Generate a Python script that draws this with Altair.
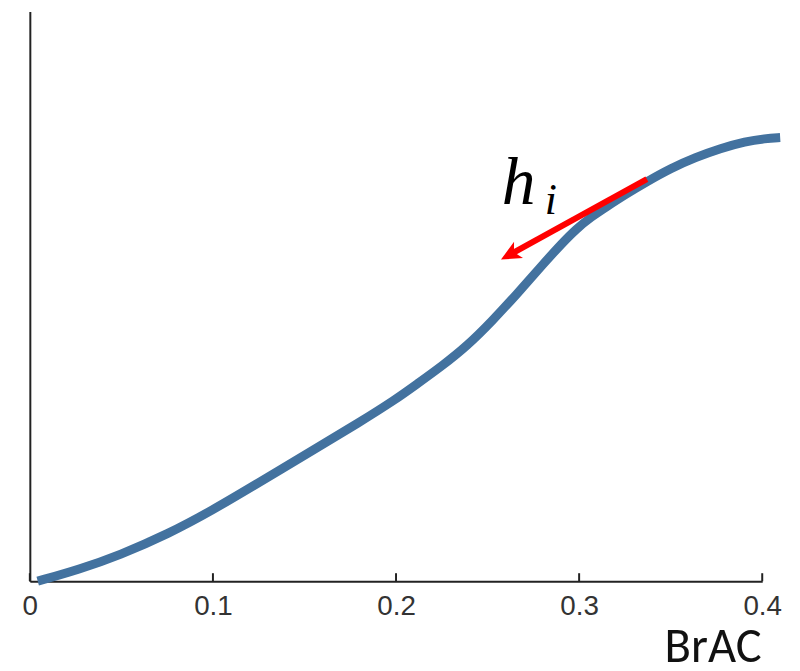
import altair as alt
import pandas as pd

# Curve (BrAC vs response)
curve_x = [0.0043, 0.0271, 0.0488, 0.0760, 0.0993, 0.1248, 0.1574, 0.1791, 0.1997,
           0.2117, 0.2252, 0.2388, 0.2524, 0.2659, 0.2806, 0.2904, 0.2985, 0.3066,
           0.3148, 0.3256, 0.3365, 0.3501, 0.3636, 0.3772, 0.3908, 0.4016, 0.4098]
curve_y = [0.0, 0.0209, 0.0453, 0.0836, 0.1237, 0.1725, 0.2352, 0.2770, 0.3188,
           0.3467, 0.3780, 0.4129, 0.4564, 0.5035, 0.5575, 0.5923, 0.6185, 0.6394,
           0.6568, 0.6794, 0.7003, 0.7247, 0.7439, 0.7596, 0.7718, 0.7770, 0.7787]

x_ticks = [0, 0.1, 0.2, 0.3, 0.4]

# Arrow (start -> tip) in data units
arrow_start = [0.3370, 0.7056]
arrow_tip = [0.2573, 0.5645]

# Label h_i
label_h = {"x": 0.2578, "y": 0.662, "t": "h"}
label_i = {"x": 0.2812, "y": 0.6446, "t": "i"}

curve_df = pd.DataFrame({"x": curve_x, "y": curve_y})
ticks_df = pd.DataFrame({"x": x_ticks})

shaft_frac = 0.07
shaft_end = [arrow_tip[0] + shaft_frac * (arrow_start[0] - arrow_tip[0]),
             arrow_tip[1] + shaft_frac * (arrow_start[1] - arrow_tip[1])]
shaft_df = pd.DataFrame({"x": [arrow_start[0]], "y": [arrow_start[1]],
                         "x2": [shaft_end[0]], "y2": [shaft_end[1]]})
head_df = pd.DataFrame({"x": [arrow_tip[0]], "y": [arrow_tip[1]]})
h_df = pd.DataFrame([label_h])
i_df = pd.DataFrame([label_i])

W, H = 738, 574

xscale = alt.Scale(domain=[0, 0.4], nice=False, zero=False)
yscale = alt.Scale(domain=[0, 1], nice=False, zero=False)

xaxis = alt.Axis(
    values=x_ticks, format=".1~f", grid=False, ticks=False, tickSize=0,
    domain=True, domainColor="#222222", domainWidth=2,
    labelFont="Liberation Sans", labelFontSize=28,
    labelColor="#333333", labelPadding=12, labelFlush=False,
    title="BrAC", titleFont="Carlito, Open Sans, Calibri", titleFontSize=49,
    titleFontWeight="normal", titleColor="#111111",
    titleAnchor="start", titleAlign="center", titleBaseline="alphabetic",
    titleX=688, titleY=81, titleAngle=0,
)
yaxis = alt.Axis(
    grid=False, ticks=False, labels=False, title=None, domain=True,
    domainColor="#222222", domainWidth=2,
)

X = lambda f="x:Q": alt.X(f, scale=xscale, axis=xaxis)
Y = lambda f="y:Q": alt.Y(f, scale=yscale, axis=yaxis)

line = alt.Chart(curve_df).mark_line(
    color="#43729F", strokeWidth=9, interpolate="basis", strokeCap="butt"
).encode(x=X(), y=Y())

ticks = alt.Chart(ticks_df).mark_rule(color="#222222", strokeWidth=2).encode(
    x=X(),
    y=alt.value(H),
    y2=alt.value(H - 8),
)

shaft = alt.Chart(shaft_df).mark_rule(color="#FF0000", strokeWidth=6).encode(
    x=X(), y=Y(), x2="x2:Q", y2="y2:Q",
)

head = alt.Chart(head_df).mark_point(
    shape="M0,0 L0.62,1.35 L0,1.0 L-0.62,1.35 Z", filled=True, color="#FF0000",
    opacity=1, size=900, angle=241, strokeWidth=0,
).encode(x=X(), y=Y())

h_text = alt.Chart(h_df).mark_text(
    font="Liberation Serif, DejaVu Serif", fontStyle="italic", fontSize=68,
    align="left", baseline="alphabetic", color="#000000",
).encode(x=X(), y=Y(), text="t:N")

i_text = alt.Chart(i_df).mark_text(
    font="Liberation Serif, DejaVu Serif", fontStyle="italic", fontSize=44,
    align="left", baseline="alphabetic", color="#000000",
).encode(x=X(), y=Y(), text="t:N")

chart = alt.layer(line, ticks, shaft, head, h_text, i_text).properties(
    width=W, height=H,
    padding={"left": 22, "top": 1, "right": 30, "bottom": 88},
    autosize=alt.AutoSizeParams(type="none"),
    background="white",
).configure_view(strokeWidth=0, strokeOpacity=0).configure_axisX(
    labelFontSize=28, labelFont="Liberation Sans", labelColor="#333333"
)

chart.save("out.html", embed_options={"renderer": "svg", "actions": False})
